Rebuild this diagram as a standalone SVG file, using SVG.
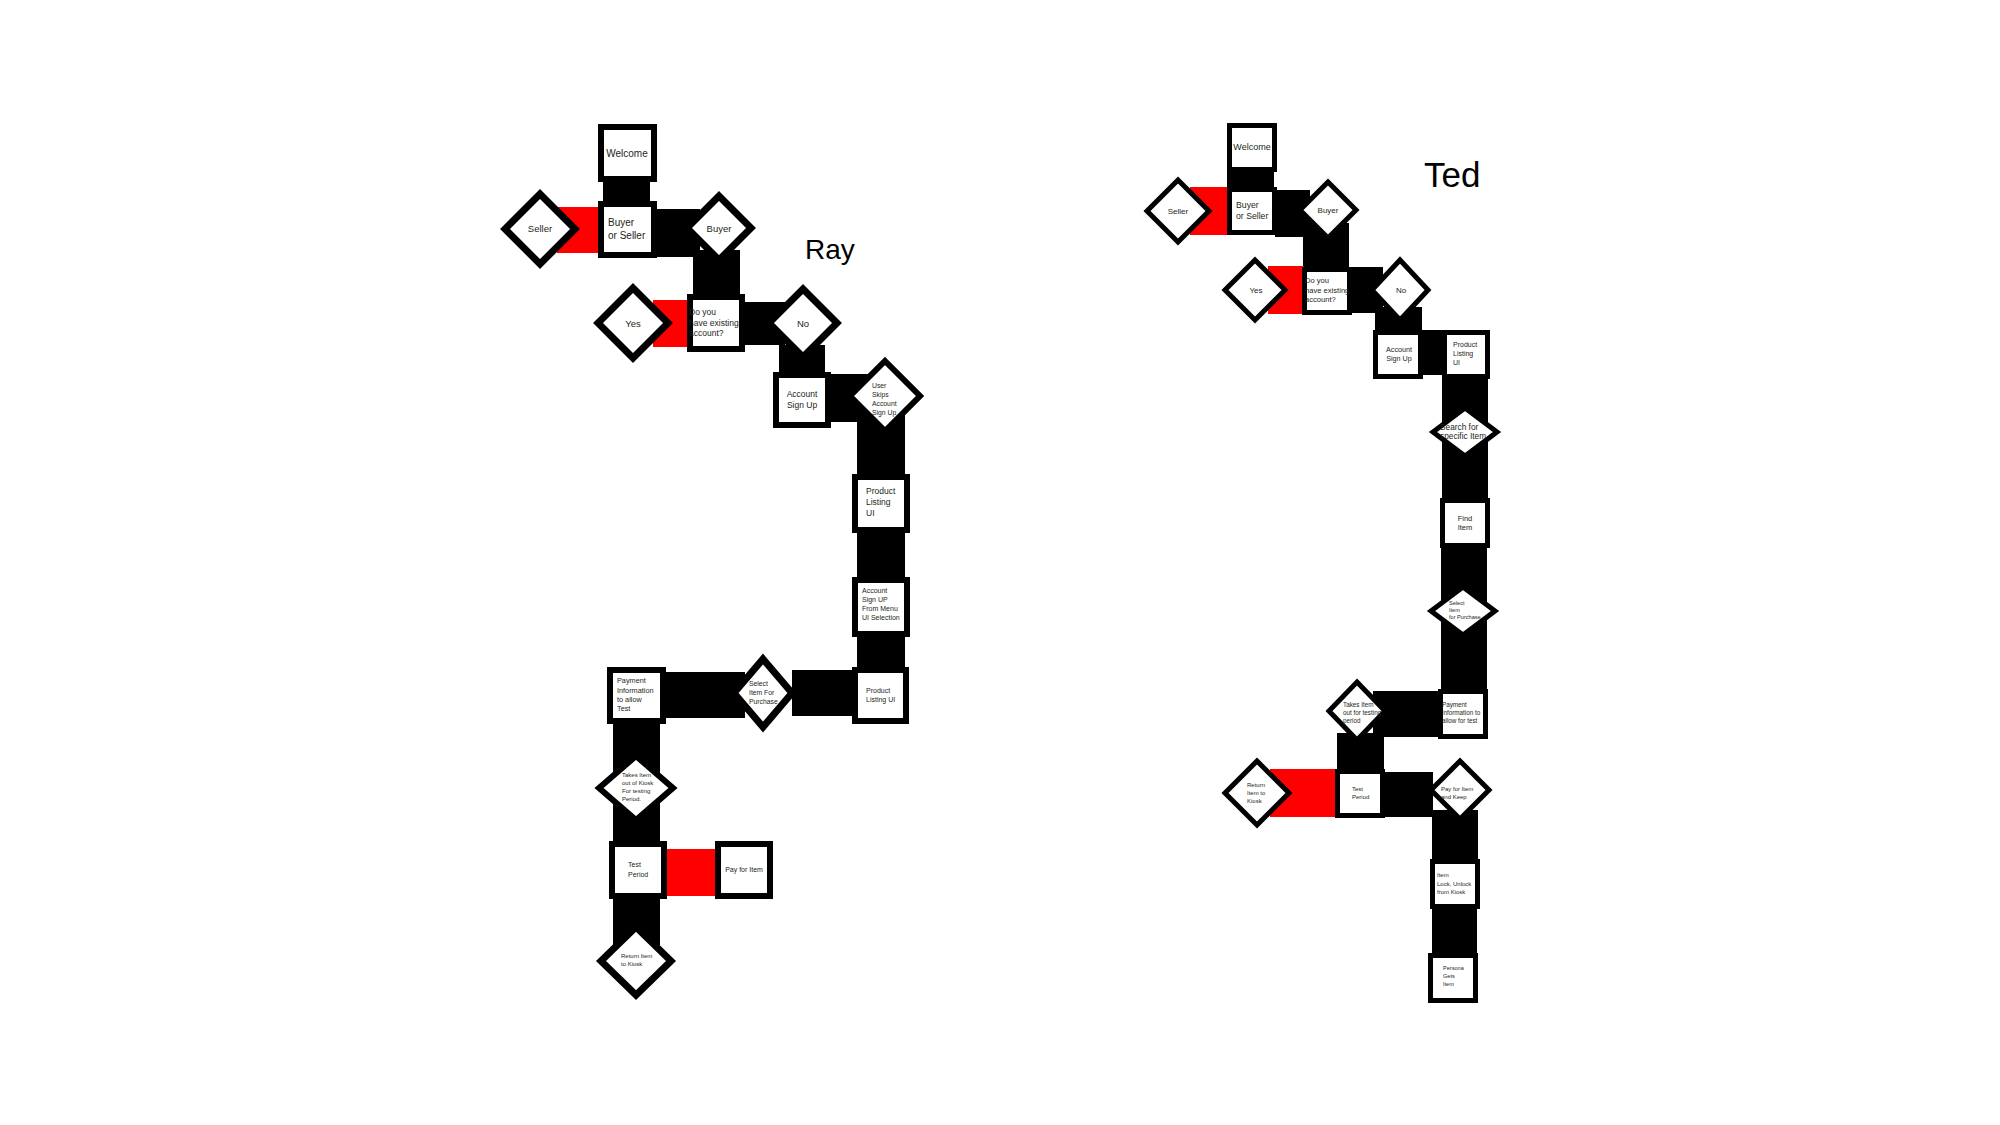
<svg xmlns="http://www.w3.org/2000/svg" width="2000" height="1125" viewBox="0 0 2000 1125">
<style>
.bg{fill:#fff}
.cb{fill:#000}
.cr{fill:#ff0000}
.bl{fill:#fff;stroke:#000;stroke-width:6}
.dl{fill:#fff;stroke:#000;stroke-width:7;stroke-linejoin:miter}
.br{fill:#fff;stroke:#000;stroke-width:5}
.dr{fill:#fff;stroke:#000;stroke-width:5;stroke-linejoin:miter}
text{font-family:"Liberation Sans",Arial,sans-serif;fill:#231f20}
.title{fill:#000}
.m{text-anchor:middle}
</style>
<rect class="bg" x="0" y="0" width="2000" height="1125"/>

<g id="connectors">
  <!-- Ray -->
  <rect class="cb" x="603" y="180" width="47" height="26"/>
  <rect class="cr" x="557" y="207" width="43" height="46"/>
  <rect class="cb" x="655" y="209" width="45" height="48"/>
  <rect class="cb" x="693" y="250" width="47" height="46"/>
  <rect class="cr" x="653" y="300" width="37" height="47"/>
  <rect class="cb" x="743" y="302" width="42" height="43"/>
  <rect class="cb" x="779" y="345" width="46" height="30"/>
  <rect class="cb" x="829" y="374" width="40" height="48"/>
  <rect class="cb" x="857" y="415" width="48" height="63"/>
  <rect class="cb" x="857" y="531" width="48" height="50"/>
  <rect class="cb" x="857" y="634" width="48" height="37"/>
  <rect class="cb" x="792" y="670" width="62" height="46"/>
  <rect class="cb" x="664" y="672" width="81" height="46"/>
  <rect class="cb" x="613" y="722" width="47" height="123"/>
  <rect class="cr" x="665" y="849" width="53" height="47"/>
  <rect class="cb" x="613" y="897" width="47" height="48"/>
  <!-- Ted -->
  <rect class="cb" x="1227" y="170" width="47" height="20"/>
  <rect class="cr" x="1190" y="187" width="39" height="48"/>
  <rect class="cb" x="1275" y="190" width="35" height="47"/>
  <rect class="cb" x="1303" y="223" width="46" height="46"/>
  <rect class="cr" x="1268" y="266" width="36" height="48"/>
  <rect class="cb" x="1350" y="267" width="33" height="46"/>
  <rect class="cb" x="1375" y="307" width="47" height="26"/>
  <rect class="cb" x="1421" y="330" width="23" height="45"/>
  <rect class="cb" x="1442" y="377" width="46" height="124"/>
  <rect class="cb" x="1441" y="546" width="46" height="146"/>
  <rect class="cb" x="1373" y="691" width="68" height="46"/>
  <rect class="cb" x="1337" y="733" width="47" height="39"/>
  <rect class="cr" x="1270" y="769" width="67" height="48"/>
  <rect class="cb" x="1383" y="772" width="50" height="45"/>
  <rect class="cb" x="1432" y="810" width="46" height="52"/>
  <rect class="cb" x="1432" y="907" width="45" height="48"/>
</g>

<!-- ===== Ray ===== -->
<text class="title" x="805" y="259" font-size="28">Ray</text>

<g id="ray-welcome">
  <rect class="bl" x="601" y="127" width="53" height="52"/>
  <text class="m" x="627" y="157" font-size="10">Welcome</text>
</g>
<g id="ray-buyer-or-seller">
  <rect class="bl" x="601" y="204" width="53" height="51"/>
  <text font-size="10"><tspan x="608" y="226">Buyer</tspan><tspan x="608" y="239">or Seller</tspan></text>
</g>
<g id="ray-seller">
  <polygon class="dl" points="540,194 575,229 540,264 505,229"/>
  <text class="m" x="540" y="232" font-size="9.5">Seller</text>
</g>
<g id="ray-buyer">
  <polygon class="dl" points="719,196 751,228 719,260 687,228"/>
  <text class="m" x="719" y="232" font-size="9.5">Buyer</text>
</g>
<g id="ray-existing-account">
  <rect class="bl" x="690" y="297" width="52" height="52"/>
  <text font-size="8.5"><tspan x="689" y="315">Do you</tspan><tspan x="689" y="325.5">have existing</tspan><tspan x="689" y="336">account?</tspan></text>
</g>
<g id="ray-yes">
  <polygon class="dl" points="633,288 668,323 633,358 598,323"/>
  <text class="m" x="633" y="327" font-size="9.5">Yes</text>
</g>
<g id="ray-no">
  <polygon class="dl" points="803,289 837,323 803,357 769,323"/>
  <text class="m" x="803" y="327" font-size="9.5">No</text>
</g>
<g id="ray-account-sign-up">
  <rect class="bl" x="776" y="375" width="52" height="50"/>
  <text class="m" font-size="8.5"><tspan x="802" y="397">Account</tspan><tspan x="802" y="408">Sign Up</tspan></text>
</g>
<g id="ray-user-skips">
  <polygon class="dl" style="stroke-width:6" points="885,361 920,396 885,431 850,396"/>
  <text font-size="6.8"><tspan x="872" y="388">User</tspan><tspan x="872" y="397">Skips</tspan><tspan x="872" y="406">Account</tspan><tspan x="872" y="414.5">Sign Up</tspan></text>
</g>
<g id="ray-product-listing-1">
  <rect class="bl" x="855" y="477" width="52" height="53"/>
  <text font-size="8.5"><tspan x="866" y="494">Product</tspan><tspan x="866" y="505">Listing</tspan><tspan x="866" y="516">UI</tspan></text>
</g>
<g id="ray-account-sign-up-menu">
  <rect class="bl" x="855" y="580" width="52" height="54"/>
  <text font-size="7"><tspan x="862" y="593">Account</tspan><tspan x="862" y="602">Sign UP</tspan><tspan x="862" y="611">From Menu</tspan><tspan x="862" y="620">UI Selection</tspan></text>
</g>
<g id="ray-product-listing-2">
  <rect class="bl" x="855" y="670" width="51" height="51"/>
  <text font-size="7"><tspan x="866" y="693">Product</tspan><tspan x="866" y="702">Listing UI</tspan></text>
</g>
<g id="ray-select-item">
  <polygon class="dl" points="763,659 792,693 763,727 734,693"/>
  <text font-size="6.8"><tspan x="749" y="686">Select</tspan><tspan x="749" y="695">Item For</tspan><tspan x="749" y="704">Purchase</tspan></text>
</g>
<g id="ray-payment">
  <rect class="bl" x="610" y="670" width="53" height="51"/>
  <text font-size="7.3"><tspan x="617" y="683">Payment</tspan><tspan x="617" y="692.5">Information</tspan><tspan x="617" y="702">to allow</tspan><tspan x="617" y="711">Test</tspan></text>
</g>
<g id="ray-takes-item">
  <polygon class="dl" style="stroke-width:6" points="636,756 673,788 636,820 599,788"/>
  <text font-size="6"><tspan x="622" y="777">Takes Item</tspan><tspan x="622" y="785">out of Kiosk</tspan><tspan x="622" y="793">For testing</tspan><tspan x="622" y="800.5">Period.</tspan></text>
</g>
<g id="ray-test-period">
  <rect class="bl" x="612" y="844" width="52" height="52"/>
  <text font-size="7"><tspan x="628" y="867">Test</tspan><tspan x="628" y="877">Period</tspan></text>
</g>
<g id="ray-pay-for-item">
  <rect class="bl" x="718" y="844" width="52" height="52"/>
  <text class="m" x="744" y="872" font-size="7">Pay for Item</text>
</g>
<g id="ray-return-item">
  <polygon class="dl" points="636,927 671,961 636,995 601,961"/>
  <text font-size="6"><tspan x="621" y="958">Return Item</tspan><tspan x="621" y="966">to Kiosk</tspan></text>
</g>

<!-- ===== Ted ===== -->
<text class="title" x="1424" y="187" font-size="35">Ted</text>

<g id="ted-welcome">
  <rect class="br" x="1229.5" y="125.5" width="45" height="44"/>
  <text class="m" x="1252" y="150" font-size="9">Welcome</text>
</g>
<g id="ted-buyer-or-seller">
  <rect class="br" x="1229.5" y="189.5" width="45" height="43"/>
  <text font-size="8.7"><tspan x="1236" y="208">Buyer</tspan><tspan x="1236" y="219">or Seller</tspan></text>
</g>
<g id="ted-seller">
  <polygon class="dr" points="1178,180 1209,211 1178,242 1147,211"/>
  <text class="m" x="1178" y="214" font-size="8">Seller</text>
</g>
<g id="ted-buyer">
  <polygon class="dr" points="1328,182 1356,210 1328,238 1300,210"/>
  <text class="m" x="1328" y="213" font-size="8">Buyer</text>
</g>
<g id="ted-existing-account">
  <rect class="br" x="1304.5" y="269.5" width="45" height="43"/>
  <text font-size="7.6"><tspan x="1305" y="283">Do you</tspan><tspan x="1305" y="292.5">have existing</tspan><tspan x="1305" y="302">account?</tspan></text>
</g>
<g id="ted-yes">
  <polygon class="dr" points="1255,260 1285,290 1255,320 1225,290"/>
  <text class="m" x="1256" y="293" font-size="8">Yes</text>
</g>
<g id="ted-no">
  <polygon class="dr" points="1400,260 1428,290 1400,320 1372,290"/>
  <text class="m" x="1401" y="293" font-size="8">No</text>
</g>
<g id="ted-account-sign-up">
  <rect class="br" x="1375.5" y="332.5" width="45" height="44"/>
  <text class="m" font-size="7.2"><tspan x="1399" y="352">Account</tspan><tspan x="1399" y="361">Sign Up</tspan></text>
</g>
<g id="ted-product-listing">
  <rect class="br" x="1444.5" y="332.5" width="43" height="44"/>
  <text font-size="7"><tspan x="1453" y="347">Product</tspan><tspan x="1453" y="356">Listing</tspan><tspan x="1453" y="365">UI</tspan></text>
</g>
<g id="ted-search">
  <polygon class="dr" points="1465,408 1497,432 1465,456 1433,432"/>
  <text font-size="8.3"><tspan x="1440" y="430">Search for</tspan><tspan x="1440" y="438.5">specific Item</tspan></text>
</g>
<g id="ted-find-item">
  <rect class="br" x="1442.5" y="500.5" width="45" height="45"/>
  <text class="m" font-size="7.5"><tspan x="1465" y="521">Find</tspan><tspan x="1465" y="530">Item</tspan></text>
</g>
<g id="ted-select-item">
  <polygon class="dr" points="1463,587 1495,611 1463,635 1431,611"/>
  <text font-size="5.6"><tspan x="1449" y="605">Select</tspan><tspan x="1449" y="612">Item</tspan><tspan x="1449" y="619">for Purchase</tspan></text>
</g>
<g id="ted-payment">
  <rect class="br" x="1440.5" y="691.5" width="45" height="45"/>
  <text font-size="6.3"><tspan x="1442" y="707">Payment</tspan><tspan x="1442" y="715">information to</tspan><tspan x="1442" y="723">allow for test</tspan></text>
</g>
<g id="ted-takes-item">
  <polygon class="dr" points="1357,682 1385,711 1357,740 1329,711"/>
  <text font-size="6.3"><tspan x="1343" y="707">Takes Item</tspan><tspan x="1343" y="715">out for testing</tspan><tspan x="1343" y="723">period</tspan></text>
</g>
<g id="ted-test-period">
  <rect class="br" x="1337.5" y="771.5" width="45" height="44"/>
  <text font-size="6"><tspan x="1352" y="791">Test</tspan><tspan x="1352" y="798.5">Period</tspan></text>
</g>
<g id="ted-return-item">
  <polygon class="dr" points="1257,761 1289,793 1257,825 1225,793"/>
  <text font-size="6"><tspan x="1247" y="787">Return</tspan><tspan x="1247" y="795">Item to</tspan><tspan x="1247" y="803">Kiosk</tspan></text>
</g>
<g id="ted-pay-and-keep">
  <polygon class="dr" points="1460,761 1489,790 1460,819 1431,790"/>
  <text font-size="6"><tspan x="1441" y="791">Pay for Item</tspan><tspan x="1441" y="798.5">and Keep</tspan></text>
</g>
<g id="ted-item-lock">
  <rect class="br" x="1432.5" y="861.5" width="45" height="45"/>
  <text font-size="6"><tspan x="1437" y="877">Item</tspan><tspan x="1437" y="885.5">Lock, Unlock</tspan><tspan x="1437" y="893.5">from Kiosk</tspan></text>
</g>
<g id="ted-persona-gets-item">
  <rect class="br" x="1430.5" y="955.5" width="45" height="45"/>
  <text font-size="5.6"><tspan x="1443" y="970">Persona</tspan><tspan x="1443" y="978">Gets</tspan><tspan x="1443" y="986">Item</tspan></text>
</g>
</svg>
